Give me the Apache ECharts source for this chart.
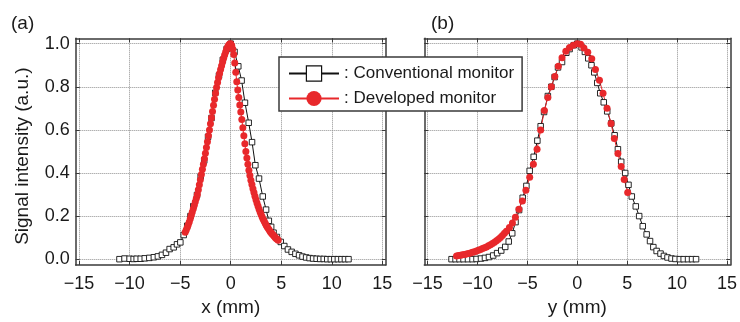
<!DOCTYPE html>
<html>
<head>
<meta charset="utf-8">
<script src="https://cdn.jsdelivr.net/npm/echarts@6/dist/echarts.min.js"></script>
<style>
  html, body { margin: 0; padding: 0; background: #fff; }
  #chart { width: 740px; height: 322px; }
</style>
</head>
<body>
<div id="chart"></div>
<script>
// tick positions
const xTicks = [-15, -10, -5, 0, 5, 10, 15];
const yTicks = [0, 0.2, 0.4, 0.6, 0.8, 1.0];

// (a) conventional monitor, x profile
const convAx = [-11.0, -10.5, -10.0, -9.6, -9.3, -8.9, -8.5, -8.05, -7.6, -7.2, -6.8, -6.4, -6.04, -5.64, -5.31, -4.98, -4.65, -4.3, -3.98, -3.7, -3.33, -2.97, -2.62, -2.24, -1.9, -1.53, -1.16, -0.78, -0.4, 0, 0.38, 0.75, 1.08, 1.41, 1.78, 2.11, 2.44, 2.8, 3.17, 3.5, 3.77, 4.0, 4.24, 4.57, 4.95, 5.3, 5.66, 6.03, 6.4, 6.76, 7.1, 7.46, 7.8, 8.15, 8.5, 8.85, 9.2, 9.55, 9.9, 10.25, 10.6, 10.95, 11.3, 11.65];
const convAy = [0.0, 0.003, 0.002, 0.001, 0.002, 0.002, 0.004, 0.006, 0.009, 0.013, 0.02, 0.03, 0.047, 0.055, 0.069, 0.078, 0.112, 0.155, 0.2, 0.246, 0.298, 0.384, 0.458, 0.568, 0.655, 0.772, 0.852, 0.925, 0.975, 1.0, 0.962, 0.895, 0.829, 0.726, 0.633, 0.543, 0.436, 0.374, 0.291, 0.23, 0.178, 0.15, 0.123, 0.103, 0.08, 0.061, 0.045, 0.034, 0.025, 0.018, 0.012, 0.008, 0.005, 0.003, 0.002, 0.001, 0.001, 0, 0, 0, 0, 0, 0, 0];

// (a) developed monitor, x profile
const devAx = [-4.5, -4.4, -4.3, -4.2, -4.1, -4.0, -3.9, -3.8, -3.7, -3.6, -3.5, -3.4, -3.3, -3.2, -3.1, -3.0, -2.9, -2.8, -2.7, -2.6, -2.5, -2.4, -2.3, -2.2, -2.1, -2.0, -1.9, -1.8, -1.7, -1.6, -1.5, -1.4, -1.3, -1.2, -1.1, -1.0, -0.9, -0.8, -0.7, -0.6, -0.5, -0.4, -0.3, -0.2, -0.1, 0.0, 0.1, 0.2, 0.3, 0.4, 0.5, 0.6, 0.7, 0.8, 0.9, 1.0, 1.1, 1.2, 1.3, 1.4, 1.5, 1.6, 1.7, 1.8, 1.9, 2.0, 2.1, 2.2, 2.3, 2.4, 2.5, 2.6, 2.7, 2.8, 2.9, 3.0, 3.1, 3.2, 3.3, 3.4, 3.5, 3.6, 3.7, 3.8, 3.9, 4.0, 4.1, 4.2, 4.3, 4.4, 4.5, 4.6, 4.7];
const devAy = [0.125, 0.135, 0.147, 0.16, 0.173, 0.188, 0.204, 0.219, 0.234, 0.25, 0.266, 0.283, 0.30, 0.322, 0.345, 0.369, 0.393, 0.417, 0.441, 0.466, 0.492, 0.518, 0.545, 0.573, 0.600, 0.628, 0.656, 0.685, 0.714, 0.742, 0.770, 0.797, 0.820, 0.842, 0.862, 0.880, 0.898, 0.915, 0.932, 0.948, 0.962, 0.975, 0.986, 0.994, 0.999, 1.000, 0.992, 0.975, 0.950, 0.910, 0.867, 0.823, 0.785, 0.750, 0.716, 0.683, 0.648, 0.610, 0.573, 0.536, 0.500, 0.470, 0.441, 0.413, 0.388, 0.366, 0.346, 0.327, 0.309, 0.292, 0.276, 0.261, 0.247, 0.233, 0.220, 0.208, 0.197, 0.187, 0.177, 0.168, 0.159, 0.151, 0.143, 0.136, 0.129, 0.123, 0.117, 0.112, 0.106, 0.101, 0.096, 0.092, 0.088];

// (b) conventional monitor, y profile
const convBx = [-12.6, -12.2, -11.8, -11.4, -10.95, -10.5, -10.1, -9.65, -9.25, -8.85, -8.43, -8.03, -7.62, -7.22, -6.87, -6.52, -6.19, -5.83, -5.47, -5.1, -4.77, -4.37, -4.0, -3.67, -3.33, -2.95, -2.6, -2.27, -1.93, -1.53, -1.1, -0.77, -0.35, 0, 0.43, 0.76, 1.1, 1.42, 1.7, 2.0, 2.3, 2.65, 3.0, 3.4, 3.74, 4.07, 4.4, 4.8, 5.13, 5.46, 5.86, 6.2, 6.56, 6.95, 7.29, 7.62, 7.95, 8.34, 8.68, 9.04, 9.44, 9.83, 10.27, 10.66, 11.1, 11.5, 11.9];
const convBy = [0, 0, 0, 0, 0, 0, 0.001, 0.003, 0.006, 0.010, 0.017, 0.028, 0.04, 0.057, 0.082, 0.12, 0.172, 0.228, 0.285, 0.34, 0.41, 0.475, 0.55, 0.617, 0.683, 0.757, 0.80, 0.845, 0.89, 0.915, 0.958, 0.975, 0.993, 1.0, 0.983, 0.962, 0.932, 0.9, 0.867, 0.818, 0.77, 0.728, 0.686, 0.63, 0.575, 0.51, 0.452, 0.40, 0.345, 0.291, 0.245, 0.2, 0.153, 0.115, 0.084, 0.056, 0.038, 0.026, 0.015, 0.008, 0.003, 0.001, 0, 0, 0, 0, 0];

// (b) developed monitor, y profile
const devBx = [-12.1, -11.9, -11.7, -11.5, -11.3, -11.1, -10.9, -10.7, -10.5, -10.3, -10.1, -9.9, -9.7, -9.5, -9.3, -9.1, -8.9, -8.7, -8.5, -8.3, -8.1, -7.9, -7.7, -7.5, -7.3, -7.1, -6.8, -6.5, -6.2, -5.85, -5.5, -5.15, -4.77, -4.4, -4.03, -3.67, -3.3, -2.95, -2.6, -2.25, -1.9, -1.53, -1.15, -0.77, -0.4, 0, 0.33, 0.66, 1.05, 1.45, 1.82, 2.22, 2.58, 2.98, 3.38, 3.71, 4.07, 4.4, 4.7, 5.05];
const devBy = [0.015, 0.017, 0.018, 0.020, 0.022, 0.024, 0.026, 0.029, 0.032, 0.035, 0.038, 0.041, 0.045, 0.049, 0.053, 0.057, 0.062, 0.067, 0.073, 0.079, 0.086, 0.093, 0.101, 0.110, 0.120, 0.130, 0.147, 0.168, 0.195, 0.232, 0.27, 0.32, 0.38, 0.44, 0.51, 0.60, 0.69, 0.75, 0.80, 0.848, 0.895, 0.935, 0.965, 0.982, 0.993, 1.0, 0.997, 0.98, 0.96, 0.93, 0.88, 0.83, 0.77, 0.70, 0.63, 0.56, 0.49, 0.43, 0.37, 0.31];

const pairs = (xs, ys) => xs.map((x, i) => [x, ys[i]]);

const FONT = '"Liberation Sans", Arial, Helvetica, sans-serif';
const TEXT = '#1a1a1a';
const FRAME = '#3a3a3a';
const RED = '#e8282b';
const BLACK = '#111';

const fmtX = v => (v < 0 ? '\u2212' + Math.abs(v) : String(v));

function xAxisFor(gridIndex, name) {
  return [
    {
      type: 'value', gridIndex, position: 'bottom',
      min: -15.33, max: 15.33,
      name, nameLocation: 'middle', nameGap: 33,
      nameTextStyle: { fontFamily: FONT, fontSize: 19, color: TEXT },
      axisLine: { show: true, onZero: false, lineStyle: { color: FRAME, width: 1.5 } },
      axisTick: { show: true, inside: true, length: 4, customValues: xTicks, lineStyle: { color: FRAME } },
      axisLabel: { customValues: xTicks, margin: 10, fontFamily: FONT, fontSize: 18, color: TEXT, formatter: fmtX },
      splitLine: { show: true, lineStyle: { color: '#909090', type: 'dotted', width: 1 } }
    },
    {
      type: 'value', gridIndex, position: 'top',
      min: -15.33, max: 15.33,
      axisLine: { show: true, onZero: false, lineStyle: { color: FRAME, width: 1.5 } },
      axisTick: { show: true, inside: true, length: 4, customValues: xTicks, lineStyle: { color: FRAME } },
      axisLabel: { show: false },
      splitLine: { show: false }
    }
  ];
}

function yAxisFor(gridIndex, showLabels) {
  return [
    {
      type: 'value', gridIndex, position: 'left',
      min: -0.027, max: 1.025,
      name: showLabels ? 'Signal intensity (a.u.)' : '',
      nameLocation: 'middle', nameGap: 43,
      nameTextStyle: { fontFamily: FONT, fontSize: 19, color: TEXT, padding: [0, 9, 0, 0] },
      axisLine: { show: true, onZero: false, lineStyle: { color: FRAME, width: 1.5 } },
      axisTick: { show: true, inside: true, length: 4, customValues: yTicks, lineStyle: { color: FRAME } },
      axisLabel: { show: showLabels, customValues: yTicks, margin: 6, fontFamily: FONT, fontSize: 18, color: TEXT, formatter: v => v.toFixed(1) },
      splitLine: { show: true, lineStyle: { color: '#909090', type: 'dotted', width: 1 } }
    },
    {
      type: 'value', gridIndex, position: 'right',
      min: -0.027, max: 1.025,
      axisLine: { show: true, onZero: false, lineStyle: { color: FRAME, width: 1.5 } },
      axisTick: { show: true, inside: true, length: 4, customValues: yTicks, lineStyle: { color: FRAME } },
      axisLabel: { show: false },
      splitLine: { show: false }
    }
  ];
}

// hollow square marker: white fill, thin dark border
const squareStyle = { color: '#fff', borderColor: BLACK, borderWidth: 0.9 };

const chart = echarts.init(document.getElementById('chart'), null, { renderer: 'canvas' });

const option = {
  animation: false,
  backgroundColor: '#fff',
  title: [
    { text: '(a)', left: 6, top: 9, textStyle: { fontFamily: FONT, fontSize: 19, fontWeight: 'normal', color: TEXT } },
    { text: '(b)', left: 426, top: 9, textStyle: { fontFamily: FONT, fontSize: 19, fontWeight: 'normal', color: TEXT } }
  ],
  grid: [
    { left: 75.7, right: 354.3, top: 38.3, bottom: 53.7 },
    { left: 424.3, right: 6, top: 38.3, bottom: 53.7 }
  ],
  xAxis: [...xAxisFor(0, 'x (mm)'), ...xAxisFor(1, 'y (mm)')],
  yAxis: [...yAxisFor(0, true), ...yAxisFor(1, false)],
  legend: {
    orient: 'vertical',
    left: 279, top: 57,
    padding: [8, 8, 4, 9],
    itemGap: 8,
    itemWidth: 50, itemHeight: 19,
    backgroundColor: '#fff',
    borderColor: FRAME, borderWidth: 1.5,
    itemStyle: { borderWidth: 1.2 },
    textStyle: { fontFamily: FONT, fontSize: 17, color: TEXT },
    formatter: n => ': ' + n,
    data: ['Conventional monitor', 'Developed monitor'],
    z: 10
  },
  series: [
    {
      name: 'Conventional monitor', type: 'line', xAxisIndex: 0, yAxisIndex: 0,
      data: pairs(convAx, convAy), clip: false,
      symbol: 'rect', symbolSize: 5.5,
      lineStyle: { color: BLACK, width: 1 },
      itemStyle: squareStyle
    },
    {
      name: 'Developed monitor', type: 'line', xAxisIndex: 0, yAxisIndex: 0,
      data: pairs(devAx, devAy), clip: false,
      symbol: 'circle', symbolSize: 7,
      lineStyle: { color: RED, width: 1 },
      itemStyle: { color: RED }
    },
    {
      name: 'Conventional monitor', type: 'line', xAxisIndex: 2, yAxisIndex: 2,
      data: pairs(convBx, convBy), clip: false,
      symbol: 'rect', symbolSize: 5.5,
      lineStyle: { color: BLACK, width: 1 },
      itemStyle: squareStyle
    },
    {
      name: 'Developed monitor', type: 'line', xAxisIndex: 2, yAxisIndex: 2,
      data: pairs(devBx, devBy), clip: false,
      symbol: 'circle', symbolSize: 7,
      lineStyle: { color: RED, width: 1 },
      itemStyle: { color: RED }
    }
  ]
};

chart.setOption(option);
</script>
</body>
</html>
